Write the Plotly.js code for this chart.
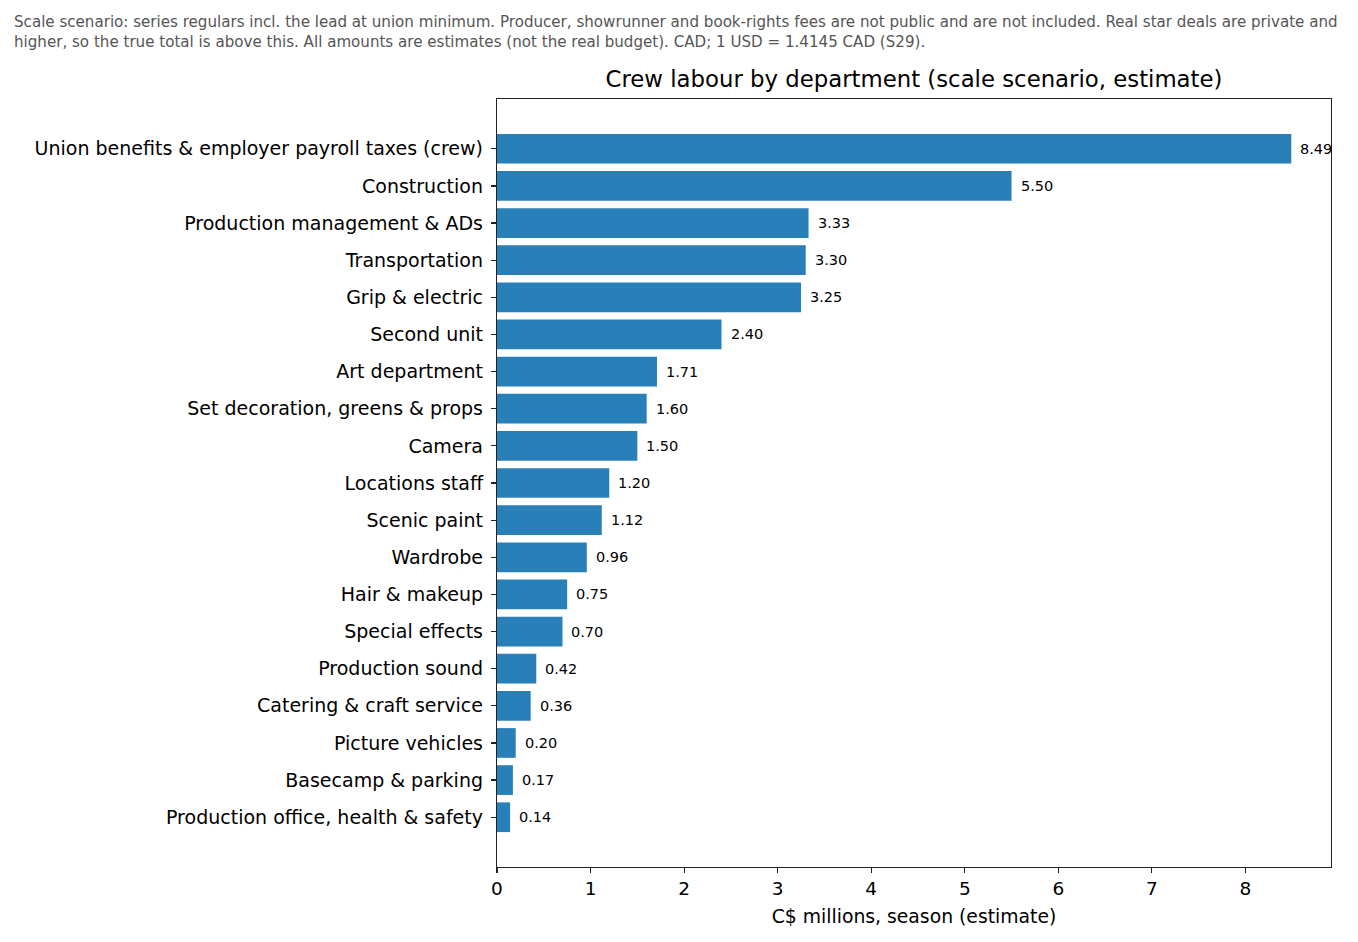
<!DOCTYPE html>
<html>
<head>
<meta charset="utf-8">
<script src="https://cdn.plot.ly/plotly-3.0.1.min.js"></script>
<style>
  body { margin: 0; background: #fff; }
  #chart { width: 1358px; height: 942px; }
</style>
</head>
<body>
<div id="chart"></div>
<script>
const departments = [
  "Union benefits & employer payroll taxes (crew)",
  "Construction",
  "Production management & ADs",
  "Transportation",
  "Grip & electric",
  "Second unit",
  "Art department",
  "Set decoration, greens & props",
  "Camera",
  "Locations staff",
  "Scenic paint",
  "Wardrobe",
  "Hair & makeup",
  "Special effects",
  "Production sound",
  "Catering & craft service",
  "Picture vehicles",
  "Basecamp & parking",
  "Production office, health & safety"
];
const costs = [8.49, 5.50, 3.33, 3.30, 3.25, 2.40, 1.71, 1.60, 1.50, 1.20,
  1.12, 0.96, 0.75, 0.70, 0.42, 0.36, 0.20, 0.17, 0.14];
const xTicks = [0, 1, 2, 3, 4, 5, 6, 7, 8];

const caption = "Scale scenario: series regulars incl. the lead at union minimum. Producer, showrunner and book-rights fees are not public and are not included. Real star deals are private and<br>" +
  "higher, so the true total is above this. All amounts are estimates (not the real budget). CAD; 1 USD = 1.4145 CAD (S29).";

const W = 1358, H = 942;
const margin = { l: 497, r: 27, t: 99, b: 75 };
const plotW = W - margin.l - margin.r;
const plotH = H - margin.t - margin.b;
const font = "DejaVu Sans, sans-serif";

// matplotlib-like padding: 5% of data extent
const xMax = Math.max(...costs) * 1.05;
const n = departments.length;
const yPad = (n - 1 + 0.8) * 0.05;

var data = [{
  type: "bar",
  orientation: "h",
  y: departments,
  x: costs,
  width: 0.8,
  marker: { color: "#2980b9", line: { width: 0 } },
  hoverinfo: "skip"
}];

let annotations = costs.map((v, i) => ({
  x: v, y: departments[i],
  xref: "x", yref: "y",
  xanchor: "left", yanchor: "middle",
  xshift: 7,
  text: v.toFixed(2),
  showarrow: false,
  font: { family: font, size: 14.5, color: "#000" }
}));

annotations.push({
  xref: "paper", yref: "paper",
  x: (12 - margin.l) / plotW,
  y: 1 + (margin.t - 11) / plotH,
  xanchor: "left", yanchor: "top",
  align: "left",
  text: caption,
  showarrow: false,
  font: { family: font, size: 15.1, color: "#555" }
});

var layout = {
  width: W,
  height: H,
  margin,
  paper_bgcolor: "#fff",
  plot_bgcolor: "#fff",
  showlegend: false,
  hovermode: false,
  font: { family: font, size: 19, color: "#000" },
  title: {
    text: "Crew labour by department (scale scenario, estimate)",
    font: { family: font, size: 22.8, color: "#000" },
    x: (margin.l + plotW / 2) / W,
    xanchor: "center",
    y: 1 - 79 / H,
    yanchor: "middle"
  },
  xaxis: {
    range: [0, xMax],
    tickvals: xTicks,
    ticktext: xTicks.map(String),
    ticks: "outside",
    ticklen: 5,
    tickwidth: 1.2,
    tickcolor: "#222",
    showgrid: false,
    zeroline: false,
    showline: true,
    linecolor: "#222",
    linewidth: 1.2,
    mirror: true,
    tickfont: { family: font, size: 18.5, color: "#000" },
    title: {
      text: "C$ millions, season (estimate)",
      font: { family: font, size: 18.8, color: "#000" },
      standoff: 11
    }
  },
  yaxis: {
    type: "category",
    range: [n - 1 + yPad + 0.4, -0.4 - yPad],
    ticks: "outside",
    ticklen: 5,
    tickwidth: 1.2,
    tickcolor: "#222",
    ticklabelstandoff: 4,
    showgrid: false,
    zeroline: false,
    showline: true,
    linecolor: "#222",
    linewidth: 1.2,
    mirror: true,
    tickfont: { family: font, size: 19, color: "#000" }
  },
  annotations
};

Plotly.newPlot("chart", data, layout, { displayModeBar: false, staticPlot: true });
</script>
</body>
</html>
